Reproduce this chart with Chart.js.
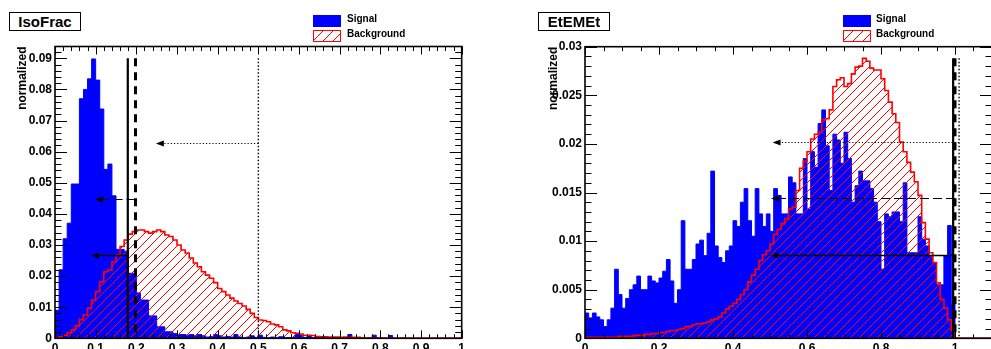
<!DOCTYPE html>
<html><head><meta charset="utf-8">
<script src="https://cdn.jsdelivr.net/npm/chart.js@4.4.1/dist/chart.umd.min.js"></script>
<style>
html,body{margin:0;padding:0;background:#fff;}
#wrap{position:relative;width:991px;height:349px;overflow:hidden;background:#fff;font-family:'Liberation Sans',Arial,Helvetica,sans-serif;}
canvas{position:absolute;top:0;}
.title{position:absolute;top:12px;height:17px;width:70px;border:1px solid #000;background:#fff;font-weight:bold;font-size:15px;line-height:17px;text-align:center;z-index:2;color:#000}
.lg{position:absolute;font-weight:bold;font-size:10px;line-height:12px;z-index:2;color:#000;white-space:nowrap}
.sig{position:absolute;width:28px;height:12px;background:#0000ff;z-index:2}
.bkg{position:absolute;width:26px;height:10px;border:1px solid #ff0000;z-index:2;background:repeating-linear-gradient(135deg,rgba(255,255,255,0) 0px,rgba(255,255,255,0) 6px,#ff0000 6px,#ff0000 7px)}
</style></head>
<body>
<div id="wrap">
  <canvas id="c1" width="495" height="360" style="left:0"></canvas>
  <canvas id="c2" width="497" height="360" style="left:495px"></canvas>
  <div class="title" style="left:9px">IsoFrac</div>
  <div class="title" style="left:538px">EtEMEt</div>
  <div class="sig" style="left:313px;top:15px"></div>
  <div class="bkg" style="left:313px;top:30px"></div>
  <div class="lg" style="left:347px;top:13px">Signal</div>
  <div class="lg" style="left:347px;top:28px">Background</div>
  <div class="sig" style="left:843px;top:15px"></div>
  <div class="bkg" style="left:843px;top:30px"></div>
  <div class="lg" style="left:876px;top:13px">Signal</div>
  <div class="lg" style="left:876px;top:28px">Background</div>
</div>
<script>
// ---------------- DATA ----------------
const binWidth = 0.01;

// IsoFrac (left panel), 100 bins from 0 to 1
const leftSignal = [
 0.009,0.022,0.032,0.037,0.0496,0.0496,0.077,0.080,0.0834,0.0898,
 0.083,0.0737,0.0543,0.056,0.0458,0.0286,0.0286,0.028,0.0209,0.0209,
 0.0146,0.0123,0.0123,0.0072,0.0072,0.0037,0.0037,0.0021,0.0021,0.0015,
 0.0012,0.0012,0.001,0.0012,0.0008,0.0012,0.0008,0.0004,0.0006,0.0012,
 0.0008,0.0004,0.0006,0.0004,0.0012,0.0004,0.0002,0.0004,0.0008,0.0003,
 0.001,0.0003,0.0002,0.0004,0.0002,0.0005,0.0002,0.0002,0.0003,0.0012,
 0.001,0.0003,0.0008,0.0002,0.0003,0.0006,0.0002,0.0001,0.0002,0.0001,
 0.0002,0.0001,0.0012,0.0002,0.0001,0.0001,0,0.0001,0.001,0.0001,
 0,0,0.0009,0,0,0,0,0,0,0,
 0,0,0,0,0,0,0,0,0,0];
const leftBackground = [
 0,0.0005,0.001,0.0018,0.0027,0.004,0.006,0.0075,0.0097,0.0123,
 0.015,0.0182,0.0214,0.022,0.0246,0.0268,0.0295,0.0316,0.0335,0.0343,
 0.0348,0.0348,0.0343,0.0338,0.0343,0.0348,0.0343,0.0332,0.0327,0.0316,
 0.030,0.0284,0.0274,0.0258,0.0242,0.023,0.0214,0.0203,0.0193,0.0179,
 0.016,0.015,0.0139,0.0129,0.012,0.0112,0.0104,0.0093,0.008,0.0067,
 0.0059,0.0057,0.0053,0.0046,0.0043,0.0037,0.0027,0.0024,0.0018,0.0016,
 0.0014,0.001,0.001,0.0009,0.0006,0.0005,0.0005,0.0004,0.0004,0.0004,
 0.0003,0.0004,0.0003,0.0003,0.0003,0.0002,0.0001,0.0001,0.0001,0.0001,
 0.0001,0,0.0001,0,0,0.0001,0,0,0,0,
 0,0,0,0,0,0,0,0,0,0];

// EtEMEt (right panel), 100 bins from 0 to 1 (axis shown to 1.1)
const rightSignal = [
 0.0026,0.0021,0.0026,0.0022,0.0019,0.0012,0.0019,0.0031,0.0071,0.0045,
 0.0031,0.0041,0.005,0.0055,0.0064,0.005,0.005,0.0064,0.0059,0.0057,
 0.0062,0.0069,0.0081,0.0059,0.0036,0.005,0.0121,0.0071,0.0071,0.0081,
 0.0097,0.0101,0.0085,0.0108,0.0172,0.0095,0.0083,0.0078,0.009,0.0095,
 0.0121,0.0115,0.014,0.0154,0.0121,0.0105,0.0154,0.0128,0.0115,0.0128,
 0.011,0.0154,0.0147,0.0128,0.0128,0.0166,0.016,0.0128,0.0128,0.0185,
 0.0133,0.0192,0.0176,0.0221,0.0235,0.0198,0.0152,0.021,0.0204,0.018,
 0.0212,0.0185,0.014,0.0157,0.0172,0.0162,0.0162,0.0154,0.014,0.012,
 0.0071,0.0128,0.0125,0.013,0.013,0.012,0.016,0.0088,0.0088,0.0088,
 0.0125,0.0102,0.0095,0.0085,0.0078,0.0055,0.0055,0.0085,0.0116,0.0035];
const rightBackground = [
 0.0001,0.0001,0.0001,0.0001,0.0001,0.0001,0.0001,0.0001,0.0001,0.0002,
 0.0002,0.0002,0.0002,0.0003,0.0003,0.0003,0.0004,0.0004,0.0005,0.0005,
 0.0006,0.0006,0.0007,0.0008,0.0008,0.0009,0.001,0.0012,0.0012,0.0014,
 0.0015,0.0015,0.0016,0.0017,0.0019,0.002,0.0022,0.0026,0.003,0.0033,
 0.0036,0.004,0.0045,0.005,0.0058,0.0065,0.0071,0.008,0.0086,0.009,
 0.0097,0.0107,0.0112,0.0118,0.0123,0.0133,0.0135,0.0152,0.0175,0.0182,
 0.0192,0.0205,0.021,0.0212,0.0225,0.0226,0.0235,0.0259,0.0266,0.0268,
 0.0259,0.0262,0.0272,0.0279,0.028,0.0288,0.0285,0.0278,0.0276,0.0276,
 0.0267,0.0255,0.0243,0.0231,0.0222,0.0202,0.0192,0.0181,0.0171,0.0161,
 0.0147,0.0119,0.0102,0.0088,0.0078,0.0057,0.004,0.0031,0.0019,0.0008];

// axis ticks and labels
const leftXTicks  = [0,0.1,0.2,0.3,0.4,0.5,0.6,0.7,0.8,0.9,1];
const leftXLabels = ['0','0.1','0.2','0.3','0.4','0.5','0.6','0.7','0.8','0.9','1'];
const leftYTicks  = [0,0.01,0.02,0.03,0.04,0.05,0.06,0.07,0.08,0.09];
const leftYLabels = ['0','0.01','0.02','0.03','0.04','0.05','0.06','0.07','0.08','0.09'];
const rightXTicks  = [0,0.2,0.4,0.6,0.8,1];
const rightXLabels = ['0','0.2','0.4','0.6','0.8','1'];
const rightYTicks  = [0,0.005,0.01,0.015,0.02,0.025,0.03];
const rightYLabels = ['0','0.005','0.01','0.015','0.02','0.025','0.03'];

// cut lines (solid, dashed, dotted) and their arrows
const leftCuts      = [0.179, 0.198, 0.5];
const leftArrowY    = [0.0268, 0.0447, 0.0627];
const leftArrowTip  = [0.0885, 0.098, 0.248];
const leftCutTop    = 0.09;
const rightCuts     = [0.995, 1.0, 1.011];
const rightArrowY   = [0.0086, 0.0144, 0.0202];
const rightArrowTip = [0.5, 0.503, 0.507];
const rightCutTop   = 0.0288;
const cutStyles     = ['solid','dashed','dotted'];

// ---------------- RENDER ----------------
const FONT = "'Liberation Sans', Arial, Helvetica, sans-serif";

function makeHatch(ctx){
  const s = 9;
  const c = document.createElement('canvas'); c.width = s; c.height = s;
  const g = c.getContext('2d');
  g.strokeStyle = '#ff0000'; g.lineWidth = 1;
  g.beginPath();
  g.moveTo(-1, s+1); g.lineTo(s+1, -1);
  g.moveTo(-1, 1); g.lineTo(1, -1);
  g.moveTo(s-1, s+1); g.lineTo(s+1, s-1);
  g.stroke();
  return ctx.createPattern(c, 'repeat');
}

function histPoints(vals, xEnd){
  const pts = [{x:0, y:0}];
  vals.forEach((v,i) => pts.push({x: i*binWidth, y: v}));
  const end = vals.length*binWidth;
  pts.push({x: end, y: 0});
  if (xEnd > end) pts.push({x: xEnd, y: 0});
  return pts;
}

function range(a, b, step){
  const out = []; const n = Math.round((b-a)/step);
  for (let i=0;i<=n;i++) out.push(a + i*step);
  return out;
}

function rootPlugin(cfg){
  return {
    id: 'rootAxes',
    afterDatasetsDraw(chart){
      const {ctx, chartArea: a, scales: {x, y}} = chart;
      ctx.save();
      ctx.beginPath(); ctx.rect(a.left-1, a.top-1, a.right-a.left+2, a.bottom-a.top+2); ctx.clip();
      // cut lines and arrows
      cfg.cuts.forEach((c, i) => {
        const st = cutStyles[i];
        const px = x.getPixelForValue(c);
        const y0 = y.getPixelForValue(0), y1 = y.getPixelForValue(cfg.cutTop);
        ctx.strokeStyle = '#000';
        if (st === 'solid'){ ctx.setLineDash([]); ctx.lineWidth = 2.2; }
        else if (st === 'dashed'){ ctx.setLineDash([8,6]); ctx.lineWidth = 3; }
        else { ctx.setLineDash([1.5,2]); ctx.lineWidth = 1.4; }
        ctx.beginPath(); ctx.moveTo(px, y1); ctx.lineTo(px, y0); ctx.stroke();
        // arrow
        const ay = Math.round(y.getPixelForValue(cfg.arrowY[i])) + 0.5;
        const tip = x.getPixelForValue(cfg.arrowTip[i]);
        if (st === 'solid'){ ctx.setLineDash([]); ctx.lineWidth = 1.5; }
        else if (st === 'dashed'){ ctx.setLineDash([9,4]); ctx.lineWidth = 1.2; }
        else { ctx.setLineDash([1.2,2]); ctx.lineWidth = 1.2; }
        ctx.beginPath(); ctx.moveTo(px, ay); ctx.lineTo(tip + 5, ay); ctx.stroke();
        ctx.setLineDash([]);
        ctx.fillStyle = '#000';
        ctx.beginPath(); ctx.moveTo(tip, ay); ctx.lineTo(tip + 8, ay - 3); ctx.lineTo(tip + 8, ay + 3); ctx.closePath(); ctx.fill();
      });
      ctx.restore();
      // ticks (inside)
      ctx.save();
      ctx.strokeStyle = '#000'; ctx.lineWidth = 1; ctx.setLineDash([]);
      const seg = (x1,y1,x2,y2) => { ctx.beginPath(); ctx.moveTo(x1,y1); ctx.lineTo(x2,y2); ctx.stroke(); };
      cfg.xMinor.forEach(v => { const p = Math.round(x.getPixelForValue(v)) + 0.5; seg(p, a.bottom, p, a.bottom-4); seg(p, a.top, p, a.top+4.5); });
      cfg.xMajor.forEach(v => { const p = Math.round(x.getPixelForValue(v)) + 0.5; seg(p, a.bottom, p, a.bottom-8); seg(p, a.top, p, a.top+8); });
      cfg.yMinor.forEach(v => { const p = Math.round(y.getPixelForValue(v)) + 0.5; seg(a.left, p, a.left+6.5, p); seg(a.right, p, a.right-6.5, p); });
      cfg.yMajor.forEach(v => { const p = Math.round(y.getPixelForValue(v)) + 0.5; seg(a.left, p, a.left+12, p); seg(a.right, p, a.right-12, p); });
      ctx.lineWidth = 1.6;
      ctx.strokeRect(a.left, a.top, a.right-a.left, a.bottom-a.top);
      ctx.restore();
    }
  };
}

function makeChart(canvasId, p){
  const canvas = document.getElementById(canvasId);
  const ctx = canvas.getContext('2d');
  const hatch = makeHatch(ctx);
  return new Chart(ctx, {
    type: 'line',
    data: {
      datasets: [
        { label: 'Background', data: histPoints(p.bkg, p.xMax), stepped: true, borderColor: '#ff0000', borderWidth: 1.6,
          backgroundColor: hatch, fill: 'origin', pointRadius: 0, order: 0 },
        { label: 'Signal', data: histPoints(p.sig, p.xMax), stepped: true, borderColor: '#0000ff', borderWidth: 1,
          backgroundColor: '#0000ff', fill: 'origin', pointRadius: 0, order: 1 }
      ]
    },
    options: {
      responsive: false, animation: false, devicePixelRatio: 1,
      layout: { padding: { top: p.padTop, right: p.padRight, left: 0, bottom: 0 } },
      plugins: { legend: { display: false }, tooltip: { enabled: false } },
      scales: {
        x: {
          type: 'linear', min: 0, max: p.xMax,
          grid: { display: false, drawTicks: false }, border: { display: false },
          afterBuildTicks: s => { s.ticks = p.xTicks.map(v => ({ value: v })); },
          afterFit: s => { s.height = p.xAxisH; },
          ticks: { callback: (v, i) => p.xLabels[i], autoSkip: false, maxRotation: 0, padding: 3,
                   color: '#000', font: { family: FONT, size: 12, weight: 'bold' } }
        },
        y: {
          type: 'linear', min: 0, max: p.yMax,
          grid: { display: false, drawTicks: false }, border: { display: false },
          afterBuildTicks: s => { s.ticks = p.yTicks.map(v => ({ value: v })); },
          afterFit: s => { s.width = p.yAxisW; },
          ticks: { callback: (v, i) => p.yLabels[i], autoSkip: false, padding: 3,
                   color: '#000', font: { family: FONT, size: 12, weight: 'bold' } },
          title: { display: true, text: 'normalized', align: 'end', color: '#000',
                   font: { family: FONT, size: 12, weight: 'bold' }, padding: { top: p.titlePad, bottom: 0 } }
        }
      }
    },
    plugins: [rootPlugin({
      cuts: p.cuts, arrowY: p.arrowY, arrowTip: p.arrowTip, cutTop: p.cutTop,
      xMajor: p.xTicks, xMinor: range(0, p.xMax, p.xMinorStep),
      yMajor: p.yTicks, yMinor: range(0, p.yMax, p.yMinorStep)
    })]
  });
}

makeChart('c1', {
  sig: leftSignal, bkg: leftBackground, xMax: 1, yMax: 0.0938,
  xTicks: leftXTicks, xLabels: leftXLabels, yTicks: leftYTicks, yLabels: leftYLabels,
  xMinorStep: 0.02, yMinorStep: 0.002,
  padTop: 46.5, padRight: 33.3, xAxisH: 21.7, yAxisW: 55, titlePad: 15.3,
  cuts: leftCuts, arrowY: leftArrowY, arrowTip: leftArrowTip, cutTop: leftCutTop
});
makeChart('c2', {
  sig: rightSignal, bkg: rightBackground, xMax: 1.1, yMax: 0.03,
  xTicks: rightXTicks, xLabels: rightXLabels, yTicks: rightYTicks, yLabels: rightYLabels,
  xMinorStep: 0.05, yMinorStep: 0.001,
  padTop: 46.7, padRight: 0, xAxisH: 21.7, yAxisW: 90, titlePad: 51.8,
  cuts: rightCuts, arrowY: rightArrowY, arrowTip: rightArrowTip, cutTop: rightCutTop
});
</script>
</body></html>
